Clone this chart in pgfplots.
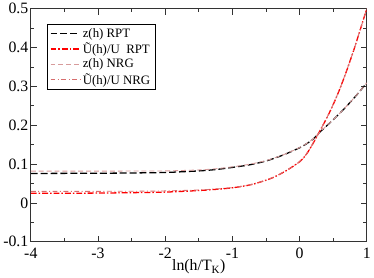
\documentclass[border=0pt]{standalone}
\usepackage{pgfplots}
\pgfplotsset{compat=1.18}
\usepackage{fontspec}
\setmainfont{Liberation Serif}
\definecolor{nrgz}{RGB}{215,155,155}
\definecolor{nrgu}{RGB}{215,110,110}
\begin{document}
\begin{tikzpicture}
\begin{axis}[
  scale only axis,
  width=340pt, height=236pt,
  xmin=-4, xmax=1, ymin=-0.1, ymax=0.5,
  xtick={-4,-3,-2,-1,0,1},
  ytick={-0.1,0,0.1,0.2,0.3,0.4,0.5},
  yticklabels={-0.1,0,0.1,0.2,0.3,0.4,0.5},
  minor x tick num=1, minor y tick num=1,
  tick align=inside,
  major tick length=6pt, minor tick length=3.5pt,
  axis line style={line width=0.8pt, black!80},
  every tick/.style={black!80, line width=0.7pt},
  tick label style={font=\fontsize{16}{18}\selectfont},
  yticklabel style={xshift=1pt},
  /pgf/number format/assume math mode=true,
  xticklabel style={yshift=-3pt},
  xlabel={ln(h/T\textsubscript{K})},
  xlabel style={font=\fontsize{16}{18}\selectfont, yshift=6pt},
  legend style={at={(0.047,0.933)}, anchor=north west, draw=black, line width=0.6pt,
    font=\fontsize{13}{15}\selectfont, inner xsep=3pt, inner ysep=2pt,
    row sep=0pt},
  legend cell align=left,
  legend image code/.code={\draw[#1] (0pt,0pt) -- (30pt,0pt);},
]
\addplot[black, smooth, line width=1.3pt, dash pattern=on 7pt off 3pt] coordinates {
(-4,0.076) (-3.5,0.0762) (-3,0.0765) (-2.5,0.0772) (-2,0.0785) (-1.5,0.0825) (-1.25,0.086) (-1,0.0915)
(-0.75,0.098) (-0.5,0.108) (-0.25,0.123) (0,0.142) (0.1,0.152) (0.2,0.164) (0.3,0.182) (0.4,0.198) (0.5,0.214)
(0.6,0.231) (0.7,0.249) (0.8,0.268) (0.9,0.288) (1,0.309)};
\addlegendentry{z(h) RPT}
\addplot[red, smooth, line width=1.3pt, dash pattern=on 6pt off 2pt on 1.5pt off 2pt] coordinates {
(-4,0.025) (-3.5,0.025) (-3,0.0255) (-2.5,0.0265) (-2,0.028) (-1.5,0.032) (-1.25,0.035) (-1,0.039)
(-0.75,0.046) (-0.6,0.053) (-0.4,0.065) (-0.2,0.083) (0,0.106) (0.1,0.125) (0.2,0.153) (0.3,0.185)
(0.4,0.217) (0.5,0.253) (0.6,0.294) (0.7,0.34) (0.8,0.39) (0.9,0.444) (1,0.5)};
\addlegendentry{Ũ(h)/U\ \ RPT}
\addplot[nrgz, smooth, line width=0.9pt, dash pattern=on 5pt off 3pt] coordinates {
(-4,0.082) (-3.5,0.082) (-3,0.082) (-2.5,0.0822) (-2,0.0825) (-1.5,0.085) (-1.25,0.088) (-1,0.093)
(-0.75,0.0995) (-0.5,0.109) (-0.25,0.1235) (0,0.1425) (0.1,0.1525) (0.2,0.1645) (0.3,0.1823) (0.4,0.1983) (0.5,0.2143)
(0.6,0.2313) (0.7,0.2493) (0.8,0.2683) (0.9,0.2883) (1,0.3093)};
\addlegendentry{z(h) NRG}
\addplot[nrgu, smooth, line width=0.9pt, dash pattern=on 5pt off 2.5pt on 1pt off 2.5pt] coordinates {
(-4,0.030) (-3.5,0.030) (-3,0.030) (-2.5,0.0302) (-2,0.031) (-1.5,0.0335) (-1.25,0.036) (-1,0.0395)
(-0.75,0.0465) (-0.6,0.0533) (-0.4,0.0653) (-0.2,0.0833) (0,0.1063) (0.1,0.1253) (0.2,0.1533) (0.3,0.1853)
(0.4,0.2173) (0.5,0.2533) (0.6,0.2943) (0.7,0.3403) (0.8,0.3903) (0.9,0.4443) (1,0.5)};
\addlegendentry{Ũ(h)/U NRG}
\end{axis}
\end{tikzpicture}
\end{document}
